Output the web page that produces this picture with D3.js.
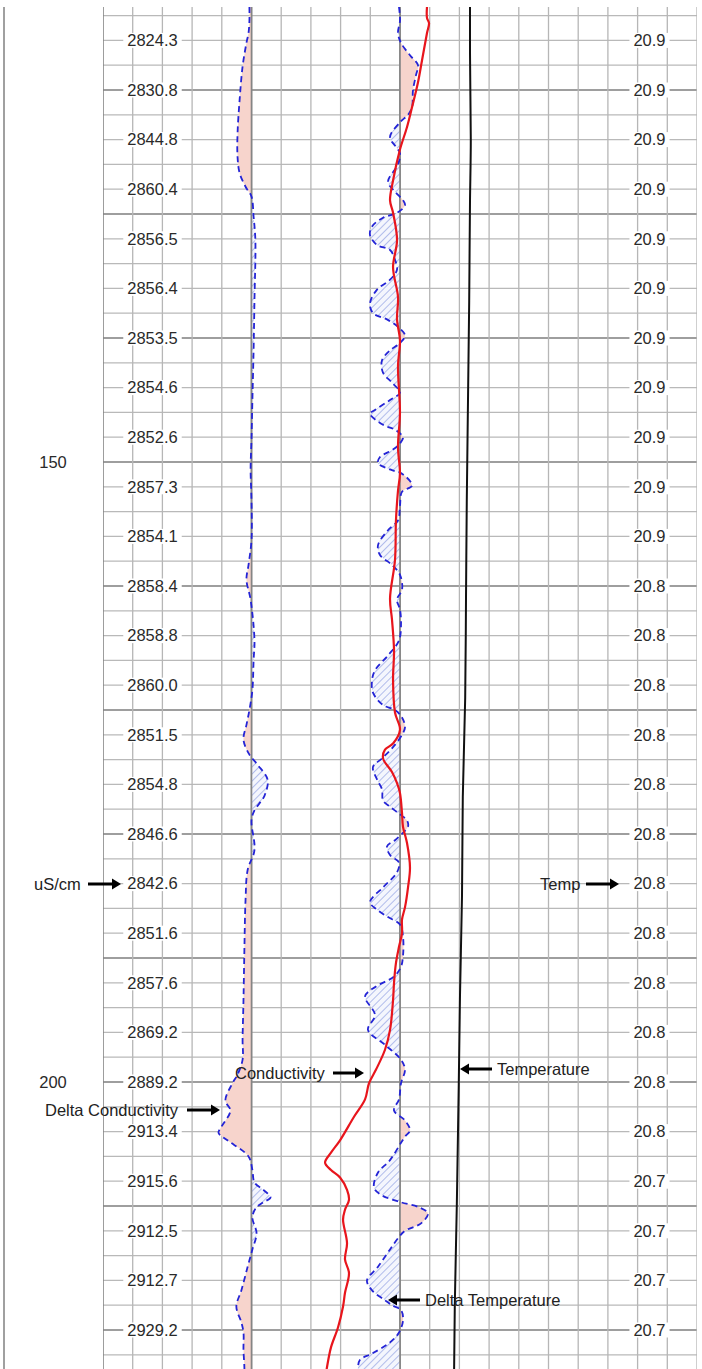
<!DOCTYPE html>
<html>
<head>
<meta charset="utf-8">
<script src="https://cdn.jsdelivr.net/npm/d3@7/dist/d3.min.js"></script>
<style>
body { margin: 0; background: #fff; }
svg { display: block; font-family: "Liberation Sans", Arial, sans-serif; }
</style>
</head>
<body>
<svg width="702" height="1369"></svg>
<script>
// depth readouts in the left column
var depthTicks = [150, 200];

// depths of the readout rows, conductivity (left) and temperature (right)
var labelDepths = [116, 120, 124, 128, 132, 136, 140, 144, 148, 152, 156, 160, 164, 168,
    172, 176, 180, 184, 188, 192, 196, 200, 204, 208, 212, 216, 220];
var condLabels = ["2824.3", "2830.8", "2844.8", "2860.4", "2856.5", "2856.4", "2853.5", "2854.6",
    "2852.6", "2857.3", "2854.1", "2858.4", "2858.8", "2860.0", "2851.5", "2854.8", "2846.6",
    "2842.6", "2851.6", "2857.6", "2869.2", "2889.2", "2913.4", "2915.6", "2912.5", "2912.7", "2929.2"];
var tempLabels = ["20.9", "20.9", "20.9", "20.9", "20.9", "20.9", "20.9", "20.9", "20.9", "20.9",
    "20.9", "20.8", "20.8", "20.8", "20.8", "20.8", "20.8", "20.8", "20.8", "20.8", "20.8",
    "20.8", "20.8", "20.7", "20.7", "20.7", "20.7"];

// conductivity (uS/cm) - red trace
var condDepth = [113.3, 114.2, 114.6, 115.4, 117.6, 119.4, 121.4, 123.0, 124.8, 127.3, 128.9, 129.9,
    132.1, 134.3, 136.7, 138.5, 140.2, 142.3, 146.0, 148.8, 150.9, 152.3, 154.7, 157.9, 161.0,
    162.7, 165.2, 167.6, 170.2, 171.6, 172.7, 173.2, 173.9, 175.0, 175.9, 176.7, 178.3, 179.4,
    180.7, 182.7, 184.3, 185.9, 186.9, 188.0, 189.1, 190.4, 192.0, 193.4, 195.8, 197.4, 199.0,
    200.1, 201.4, 202.8, 204.7, 205.7, 206.5, 207.1, 207.7, 208.7, 209.5, 210.3, 211.1, 213.0,
    214.3, 215.4, 217.0, 218.1, 219.8, 221.4, 223.0, 224.0];
var condValue = [2824.3, 2824.3, 2822.0, 2824.3, 2829.9, 2834.5, 2841.2, 2846.9, 2854.8, 2862.6,
    2866.0, 2862.6, 2858.1, 2862.6, 2857.0, 2858.1, 2854.8, 2857.0, 2854.8, 2857.0, 2854.8,
    2857.0, 2859.3, 2860.4, 2866.0, 2863.8, 2861.5, 2862.6, 2860.4, 2854.8, 2862.6, 2871.7,
    2873.9, 2863.8, 2858.1, 2854.8, 2852.5, 2851.4, 2846.9, 2843.5, 2845.7, 2849.1, 2852.5,
    2852.5, 2855.9, 2859.3, 2861.5, 2862.6, 2866.0, 2871.7, 2881.8, 2889.7, 2894.2, 2906.6,
    2922.4, 2932.6, 2939.3, 2932.6, 2922.4, 2914.5, 2912.3, 2916.8, 2919.0, 2914.5, 2916.8,
    2912.3, 2916.8, 2919.0, 2924.7, 2932.6, 2937.1, 2939.3];

// temperature (deg C) - black trace
var tempDepth = [113, 117, 124, 129, 137, 145, 153, 161, 169, 177, 185, 193, 200, 210, 218, 224];
var tempValue = [20.90, 20.90, 20.91, 20.90, 20.89, 20.875, 20.86, 20.85, 20.84, 20.81, 20.80,
    20.775, 20.76, 20.735, 20.71, 20.70];

// delta conductivity - dashed trace round the left axis
var dCondDepth = [113.3, 114.4, 115.4, 116.2, 118.1, 120.8, 123.5, 125.4, 126.7, 127.8, 128.6,
    130.2, 132.1, 136.9, 141.0, 145.0, 148.2, 150.6, 153.1, 156.3, 158.3, 159.5, 161.1, 164.4,
    166.0, 168.4, 170.0, 171.2, 172.4, 173.6, 174.4, 175.6, 176.9, 178.1, 178.9, 181.3, 182.9,
    185.3, 189.4, 193.4, 196.6, 198.2, 199.4, 200.1, 201.5, 202.3, 203.6, 204.1, 204.7, 206.0,
    207.1, 208.1, 208.7, 209.3, 209.7, 210.1, 210.9, 212.2, 213.5, 214.9, 216.8, 218.1, 219.4,
    220.2, 221.6, 223.0, 224.0];
var dCondValue = [-0.7, -0.7, -1.0, -1.7, -3.0, -4.0, -4.7, -4.7, -4.0, -2.0, 0, 0.7, 1.3, 1.0,
    0.7, 0.3, 0, -0.3, 0, 0, -1.0, -1.7, -0.3, 1.0, 0.7, 0.3, -0.7, -1.7, -2.7, -0.7, 2.0, 5.4,
    4.4, 1.0, 0, 1.0, -1.3, -2.0, -2.4, -2.7, -3.0, -3.0, -4.7, -6.4, -8.8, -7.1, -10.1, -11.1,
    -8.1, -1.0, 0.3, 1.0, 4.0, 6.4, 4.0, 1.7, 0.3, 1.7, 0.3, -1.3, -3.4, -5.1, -3.4, -2.7, -2.7,
    -2.4, -2.4];

// delta temperature (milli deg C) - dashed trace round the right axis
var dTempDepth = [113.3, 114.4, 115.4, 116.2, 117.2, 118.0, 118.8, 120.0, 121.4, 122.0, 122.6,
    123.8, 124.6, 125.1, 126.0, 127.4, 128.2, 128.9, 129.3, 129.9, 130.3, 131.0, 131.7, 132.5,
    132.9, 133.7, 134.5, 135.3, 136.1, 137.2, 138.0, 138.5, 139.1, 139.8, 140.4, 141.0, 141.8,
    142.8, 143.6, 144.4, 145.0, 145.8, 146.1, 147.0, 147.4, 148.0, 148.5, 149.0, 149.6, 150.1,
    150.6, 151.0, 151.9, 152.4, 153.5, 154.7, 155.5, 156.7, 157.5, 158.3, 159.1, 160.3, 161.1,
    161.9, 163.1, 164.4, 165.6, 166.8, 167.6, 168.6, 169.6, 170.0, 170.6, 171.4, 172.0, 173.0,
    173.9, 174.6, 175.6, 176.4, 177.3, 177.8, 178.3, 178.9, 179.4, 179.9, 180.5, 181.0, 181.7,
    182.3, 183.1, 184.3, 185.5, 186.1, 186.7, 187.3, 188.3, 189.8, 190.7, 191.5, 192.3, 193.1,
    194.6, 195.8, 197.0, 198.2, 199.0, 200.1, 201.4, 202.3, 203.1, 203.9, 204.4, 204.9, 206.3,
    207.3, 208.5, 209.1, 209.7, 210.1, 210.6, 211.4, 212.0, 212.5, 213.5, 214.9, 216.0, 216.8,
    217.6, 218.0, 218.4, 219.2, 220.2, 221.0, 221.9, 222.4, 223.0, 224.0];
var dTempValue = [-1.7, 0, -3.4, 1.7, 16.8, 30.3, 26.9, 21.9, 20.2, 13.5, 0, -16.8, -6.7, 0, -3.4,
    -20.2, -8.4, 5.1, 8.4, -5.1, -28.6, -47.1, -50.5, -38.7, -16.8, -8.4, -5.1, -16.8, -38.7,
    -50.5, -45.5, -21.9, -3.4, 8.4, 0, -16.8, -30.3, -28.6, -13.5, 0, -16.8, -42.1, -50.5,
    -28.6, -8.4, 5.1, 0, -11.8, -33.7, -37.0, -16.8, 5.1, 20.2, 3.4, 0, -3.4, -20.2, -37.0,
    -33.7, -13.5, 0, 3.4, -5.1, 0, 1.7, -1.7, -20.2, -42.1, -47.1, -45.5, -28.6, -8.4, 3.4, 8.4,
    3.4, -11.8, -30.3, -45.5, -38.7, -30.3, -28.6, -16.8, -3.4, 11.8, 13.5, 5.1, -8.4, -21.9,
    -16.8, -1.7, -5.1, -28.6, -50.5, -38.7, -20.2, 0, 5.1, 5.1, 1.7, -10.1, -40.4, -58.9, -42.1,
    -53.9, -25.3, 1.7, 8.4, 1.7, -1.7, -10.1, 8.4, 16.8, 8.4, 1.7, -16.8, -37.0, -43.8, -32.0,
    1.7, 32.0, 47.1, 35.4, 8.4, -1.7, -16.8, -37.0, -55.6, -47.1, -25.3, -13.5, 1.7, 5.1, -1.7,
    -16.8, -47.1, -67.3, -70.7, -70.0];

var svg = d3.select("svg"),
    width = +svg.attr("width"),
    height = +svg.attr("height");

var plotLeft = 103, plotRight = 697, plotTop = 7;

var y = d3.scaleLinear().domain([150, 200]).range([462, 1082]);
var gridX = d3.scaleLinear().domain([0, 20]).range([plotLeft, plotRight]);
var condX = d3.scaleLinear().domain([2824.3, 2929.2]).range([427, 334]);
var tempX = d3.scaleLinear().domain([20.7, 20.9]).range([454, 470]);
var dCondX = d3.scaleLinear().domain([-10, 10]).range([gridX(4), gridX(6)]);
var dTempX = d3.scaleLinear().domain([-50, 50]).range([gridX(9), gridX(11)]);

var defs = svg.append("defs");
defs.append("clipPath").attr("id", "plot")
    .append("rect").attr("x", plotLeft).attr("y", plotTop)
    .attr("width", plotRight - plotLeft).attr("height", height - plotTop);

var hatch = defs.append("pattern")
    .attr("id", "hatch")
    .attr("patternUnits", "userSpaceOnUse")
    .attr("width", 5).attr("height", 5)
    .attr("patternTransform", "rotate(45)");
hatch.append("rect").attr("width", 5).attr("height", 5).attr("fill", "#f4f6fd");
hatch.append("line").attr("x1", 0).attr("y1", 0).attr("x2", 0).attr("y2", 5)
    .attr("stroke", "#95a3e4").attr("stroke-width", 1.4);

// clip halves either side of each delta axis
function halfClip(id, x0, x1) {
    defs.append("clipPath").attr("id", id)
        .append("rect").attr("x", x0).attr("y", plotTop)
        .attr("width", x1 - x0).attr("height", height - plotTop);
}
halfClip("dcLeft", plotLeft, dCondX(0));
halfClip("dcRight", dCondX(0), plotRight);
halfClip("dtLeft", plotLeft, dTempX(0));
halfClip("dtRight", dTempX(0), plotRight);

// frame line at the far left
svg.append("line")
    .attr("x1", 4).attr("x2", 4).attr("y1", plotTop).attr("y2", height)
    .attr("stroke", "#a0a0a0").attr("stroke-width", 2);

// grid
var grid = svg.append("g").attr("clip-path", "url(#plot)");
var hDepths = d3.range(114, 224, 2);
grid.selectAll(".h")
    .data(hDepths).enter().append("line")
    .attr("x1", plotLeft).attr("x2", plotRight)
    .attr("y1", function(d) { return y(d); })
    .attr("y2", function(d) { return y(d); })
    .attr("stroke", function(d) { return d % 10 == 0 ? "#7e7e7e" : "#b9b9b9"; })
    .attr("stroke-width", function(d) { return d % 10 == 0 ? 1.6 : 1.3; });

grid.selectAll(".v")
    .data(d3.range(0, 21)).enter().append("line")
    .attr("y1", plotTop).attr("y2", height)
    .attr("x1", function(d) { return gridX(d); })
    .attr("x2", function(d) { return gridX(d); })
    .attr("stroke", function(d) { return (d == 0 || d == 5 || d == 10) ? "#858585" : "#b6b6b6"; })
    .attr("stroke-width", function(d) { return (d == 0 || d == 5 || d == 10) ? 1.6 : 1.3; });

function series(depths, values) {
    return depths.map(function(d, i) { return {depth: d, value: values[i]}; });
}

var dcData = series(dCondDepth, dCondValue);
var dtData = series(dTempDepth, dTempValue);

function deltaArea(scale) {
    return d3.area()
        .curve(d3.curveCatmullRom)
        .y(function(d) { return y(d.depth); })
        .x0(scale(0))
        .x1(function(d) { return scale(d.value); });
}
function deltaLine(scale) {
    return d3.line()
        .curve(d3.curveCatmullRom)
        .x(function(d) { return scale(d.value); })
        .y(function(d) { return y(d.depth); });
}

var plot = svg.append("g").attr("clip-path", "url(#plot)");

// delta conductivity: pink to the left, hatched to the right
plot.append("g").attr("clip-path", "url(#dcLeft)")
    .append("path").datum(dcData).attr("d", deltaArea(dCondX)).attr("fill", "#f7d4cc");
plot.append("g").attr("clip-path", "url(#dcRight)")
    .append("path").datum(dcData).attr("d", deltaArea(dCondX)).attr("fill", "url(#hatch)");

// delta temperature: hatched to the left, pink to the right
plot.append("g").attr("clip-path", "url(#dtLeft)")
    .append("path").datum(dtData).attr("d", deltaArea(dTempX)).attr("fill", "url(#hatch)");
plot.append("g").attr("clip-path", "url(#dtRight)")
    .append("path").datum(dtData).attr("d", deltaArea(dTempX)).attr("fill", "#f7d4cc");

// axis lines for the deltas sit on top of the fills
plot.selectAll(".axis0")
    .data([dCondX(0), dTempX(0)]).enter().append("line")
    .attr("x1", function(d) { return d; }).attr("x2", function(d) { return d; })
    .attr("y1", plotTop).attr("y2", height)
    .attr("stroke", "#858585").attr("stroke-width", 1.6);

plot.append("path").datum(dcData)
    .attr("d", deltaLine(dCondX))
    .attr("fill", "none").attr("stroke", "#2424d6").attr("stroke-width", 1.8)
    .attr("stroke-dasharray", "6,4");
plot.append("path").datum(dtData)
    .attr("d", deltaLine(dTempX))
    .attr("fill", "none").attr("stroke", "#2424d6").attr("stroke-width", 1.8)
    .attr("stroke-dasharray", "6,4");

// temperature
plot.append("path").datum(series(tempDepth, tempValue))
    .attr("d", d3.line().curve(d3.curveMonotoneY)
        .x(function(d) { return tempX(d.value); })
        .y(function(d) { return y(d.depth); }))
    .attr("fill", "none").attr("stroke", "#111").attr("stroke-width", 2);

// conductivity
plot.append("path").datum(series(condDepth, condValue))
    .attr("d", d3.line().curve(d3.curveCatmullRom)
        .x(function(d) { return condX(d.value); })
        .y(function(d) { return y(d.depth); }))
    .attr("fill", "none").attr("stroke", "#e8151c").attr("stroke-width", 2.2);

// readout labels with white backing so they break the grid lines
function readout(g, cx, text) {
    var t = g.append("text")
        .attr("x", cx).attr("y", 0).attr("dy", "0.35em")
        .attr("text-anchor", "middle")
        .attr("font-size", 16.5)
        .attr("fill", "#2a2a2a")
        .text(text);
    var bb = t.node().getBBox();
    g.insert("rect", "text")
        .attr("x", bb.x - 4).attr("y", -7.5)
        .attr("width", bb.width + 8).attr("height", 15)
        .attr("fill", "#fff");
}

labelDepths.forEach(function(d, i) {
    var g = svg.append("g").attr("transform", "translate(0," + y(d) + ")");
    readout(g, 152.5, condLabels[i]);
    readout(g, 649.5, tempLabels[i]);
});

svg.selectAll(".depth")
    .data(depthTicks).enter().append("text")
    .attr("x", 53).attr("y", function(d) { return y(d); })
    .attr("dy", "0.35em").attr("text-anchor", "middle")
    .attr("font-size", 16.5).attr("fill", "#2a2a2a")
    .text(function(d) { return d; });

// annotations: text with a bold arrow
var notes = [
    {text: "uS/cm", tx: 34, ty: 884, ax0: 88, ax1: 121},
    {text: "Temp", tx: 540, ty: 884, ax0: 586, ax1: 619},
    {text: "Conductivity", tx: 235, ty: 1073, ax0: 333, ax1: 364},
    {text: "Temperature", tx: 497, ty: 1069, ax0: 492, ax1: 460},
    {text: "Delta Conductivity", tx: 45, ty: 1110, ax0: 187, ax1: 220},
    {text: "Delta Temperature", tx: 425, ty: 1300, ax0: 420, ax1: 388}
];

var ann = svg.append("g");
notes.forEach(function(n) {
    ann.append("text")
        .attr("x", n.tx).attr("y", n.ty).attr("dy", "0.35em")
        .attr("font-size", 16.5).attr("fill", "#222")
        .text(n.text);
    var dir = n.ax1 > n.ax0 ? 1 : -1;
    var head = 9;
    ann.append("line")
        .attr("x1", n.ax0).attr("x2", n.ax1 - dir * head)
        .attr("y1", n.ty).attr("y2", n.ty)
        .attr("stroke", "#000").attr("stroke-width", 3);
    ann.append("path")
        .attr("d", "M" + n.ax1 + "," + n.ty +
            "L" + (n.ax1 - dir * head) + "," + (n.ty - 5.5) +
            "L" + (n.ax1 - dir * head) + "," + (n.ty + 5.5) + "Z")
        .attr("fill", "#000");
});
</script>
</body>
</html>
